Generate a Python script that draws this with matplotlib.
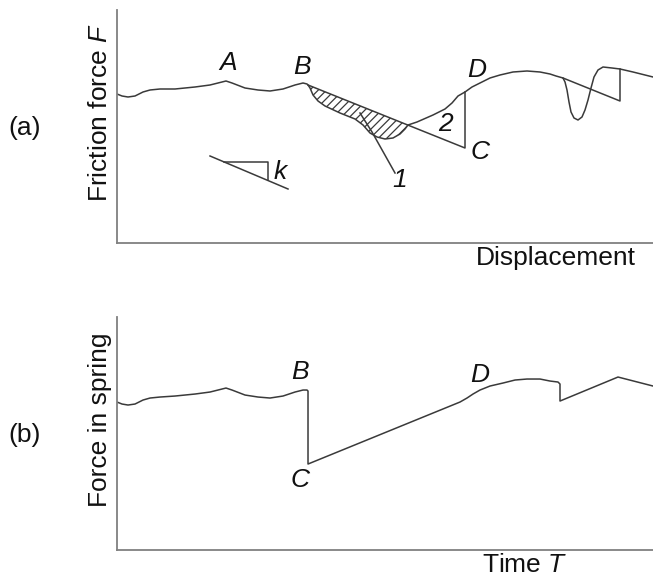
import matplotlib
matplotlib.use("Agg")
import matplotlib.pyplot as plt

plt.rcParams['font.family'] = ['Liberation Sans', 'DejaVu Sans']
plt.rcParams['mathtext.fontset'] = 'custom'
plt.rcParams['mathtext.it'] = 'Liberation Sans:italic'
plt.rcParams['mathtext.rm'] = 'Liberation Sans'
plt.rcParams['hatch.linewidth'] = 0.9

# (a) friction force against displacement
fric_x = [0, 5, 11, 18, 26, 33, 43, 58, 78, 93, 105, 109, 115, 128, 141, 153, 166, 178, 186, 190,
          191, 193, 196, 201, 208, 223, 238, 246, 253, 260, 268, 276, 283, 288, 291,
          300, 316, 328, 335, 341, 348, 355, 363, 373, 383, 396, 410, 423, 433, 439, 446,
          448, 450, 452, 454, 457, 461, 465, 468, 471, 474, 477, 481, 486, 495, 503,
          516, 528, 536]
fric_y = [149, 147, 146, 147, 151, 153, 154, 154, 156, 158, 161, 162, 160, 155, 153, 152, 154, 158, 160, 159,
          158, 155, 148, 142, 137, 130, 124, 118, 110, 106, 104, 105, 109, 114, 118,
          121, 128, 134, 140, 147, 151, 156, 160, 165, 168, 171, 172, 171, 169, 167, 165,
          161, 153, 141, 131, 125, 123, 126, 133, 143, 155, 166, 173, 176, 175, 174,
          171, 168, 166]

# spring lines (slope k) B -> C -> D, and the second slip
spring1_x = [191, 348, 348]
spring1_y = [158, 95, 151]
spring2_x = [446, 503, 503]
spring2_y = [165, 142, 174]

# slope symbol k and leader for area 1
k_slant_x = [93, 171]
k_slant_y = [87, 54]
k_step_x = [107, 151, 151]
k_step_y = [81, 81, 63]
lead1_x = [243, 255, 278]
lead1_y = [130, 111, 70]

# (b) force in spring against time
spr_x = [0, 5, 11, 18, 26, 33, 43, 58, 78, 93, 105, 109, 115, 128, 141, 153, 166, 178, 186, 190, 191, 191,
         343, 350, 356, 363, 373, 386, 398, 410, 423, 433, 441, 443, 443, 501, 536]
spr_y = [148, 146, 145, 146, 150, 152, 153, 154, 156, 158, 161, 162, 160, 155, 153, 152, 154, 158, 160, 160, 159, 86,
         148, 152, 156, 160, 164, 167, 170, 171, 171, 169, 168, 166, 149, 173, 164]

line_c = '#3a3a3a'
spine_c = '#808080'
txt_c = '#111111'
fs = 19

fig = plt.figure(figsize=(6.53, 5.78), dpi=100)
ax1 = fig.add_axes([0.1792, 0.5796, 0.8208, 0.4031])
ax2 = fig.add_axes([0.1792, 0.0484, 0.8208, 0.4031])

for ax in (ax1, ax2):
    ax.set_xlim(0, 536)
    ax.set_ylim(0, 233)
    ax.set_xticks([])
    ax.set_yticks([])
    for s in ('top', 'right'):
        ax.spines[s].set_visible(False)
    for s in ('left', 'bottom'):
        ax.spines[s].set_color(spine_c)
        ax.spines[s].set_linewidth(1.3)

lw = 1.1
# top panel
ax1.plot(fric_x, fric_y, color=line_c, lw=lw, solid_joinstyle='round')
ax1.plot(spring1_x, spring1_y, color=line_c, lw=lw)
ax1.plot(spring2_x, spring2_y, color=line_c, lw=lw)
i0 = fric_x.index(191)
i1 = fric_x.index(291)
hx = fric_x[i0:i1 + 1] + [spring1_x[0]]
hy = fric_y[i0:i1 + 1] + [spring1_y[0]]
ax1.fill(hx, hy, facecolor='none', edgecolor=line_c, linewidth=0, hatch='////')
ax1.plot(k_slant_x, k_slant_y, color=line_c, lw=lw)
ax1.plot(k_step_x, k_step_y, color=line_c, lw=lw)
ax1.plot(lead1_x, lead1_y, color=line_c, lw=lw)

lab = dict(fontsize=fs, color=txt_c, style='italic', ha='center', va='center')
ax1.text(111, 180, 'A', **lab)
ax1.text(185, 176, 'B', **lab)
ax1.text(360, 173, 'D', **lab)
ax1.text(363, 91, 'C', **lab)
ax1.text(328, 119, '2', **lab)
ax1.text(283, 63, '1', **lab)
ax1.text(163, 71, 'k', **lab)

# bottom panel
ax2.plot(spr_x, spr_y, color=line_c, lw=lw, solid_joinstyle='round')
ax2.text(183, 178, 'B', **lab)
ax2.text(183, 70, 'C', **lab)
ax2.text(363, 175, 'D', **lab)

# axis labels and panel tags
fig.text(0.153, 0.806, 'Friction force $F$', rotation=90, fontsize=fs,
         color=txt_c, ha='center', va='center')
fig.text(0.153, 0.273, 'Force in spring', rotation=90, fontsize=fs,
         color=txt_c, ha='center', va='center')
fig.text(0.852, 0.554, 'Displacement', fontsize=fs, color=txt_c,
         ha='center', va='center')
fig.text(0.804, 0.022, 'Time $T$', fontsize=fs, color=txt_c,
         ha='center', va='center')
fig.text(0.038, 0.779, '(a)', fontsize=fs, color=txt_c, ha='center', va='center')
fig.text(0.038, 0.247, '(b)', fontsize=fs, color=txt_c, ha='center', va='center')

fig.savefig('out.png', dpi=100)
